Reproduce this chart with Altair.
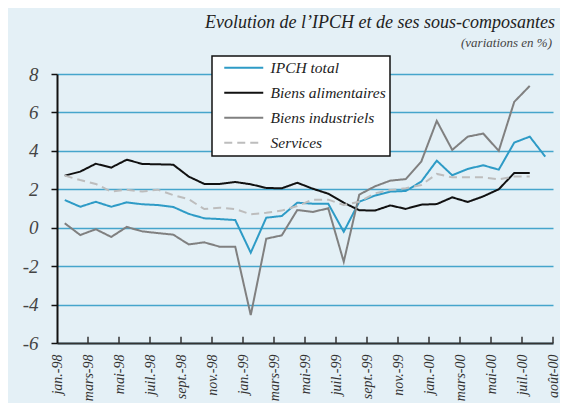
import altair as alt
import pandas as pd

# ---- data ----
tick_labels = ["jan.-98", "mars-98", "mai-98", "juil.-98", "sept.-98", "nov.-98",
               "jan.-99", "mars-99", "mai-99", "juil.-99", "sept.-99", "nov.-99",
               "jan.-00", "mars-00", "mai-00", "juil.-00", "août-00"]

series_names = ["IPCH total", "Biens alimentaires", "Biens industriels", "Services"]

ipch_total = [1.44, 1.09, 1.35, 1.09, 1.32, 1.22, 1.18, 1.08, 0.72, 0.49, 0.45, 0.40,
              -1.30, 0.52, 0.61, 1.30, 1.25, 1.25, -0.21, 1.35, 1.67, 1.88, 1.91, 2.40,
              3.49, 2.73, 3.06, 3.25, 3.02, 4.43, 4.74, 3.70]
biens_alimentaires = [2.71, 2.92, 3.33, 3.13, 3.54, 3.32, 3.30, 3.28, 2.66, 2.28, 2.28,
                      2.38, 2.26, 2.07, 2.05, 2.34, 2.03, 1.77, 1.30, 0.91, 0.89, 1.16,
                      0.98, 1.20, 1.23, 1.58, 1.34, 1.63, 2.00, 2.85, 2.85]
biens_industriels = [0.23, -0.38, -0.08, -0.48, 0.04, -0.19, -0.28, -0.36, -0.87, -0.76,
                     -0.99, -0.99, -4.55, -0.57, -0.40, 0.92, 0.82, 1.01, -1.77, 1.72,
                     2.15, 2.45, 2.53, 3.44, 5.56, 4.05, 4.74, 4.90, 4.00, 6.55, 7.38]
services = [2.71, 2.48, 2.28, 1.88, 1.98, 1.88, 1.98, 1.70, 1.48, 0.97, 1.04, 0.97,
            0.70, 0.78, 0.89, 1.13, 1.46, 1.46, 1.18, 1.35, 1.79, 1.96, 2.05, 2.22,
            2.80, 2.62, 2.62, 2.62, 2.52, 2.66, 2.66]

y_ticks = [-6, -4, -2, 0, 2, 4, 6, 8]

title_text = "Evolution de l’IPCH et de ses sous-composantes"
subtitle_text = "(variations en %)"

# ---- build table ----
rows = []
for name, vals in zip(series_names, [ipch_total, biens_alimentaires, biens_industriels, services]):
    for i, v in enumerate(vals):
        rows.append({"mois": i, "serie": name, "valeur": v})
df = pd.DataFrame(rows)

n_months = len(ipch_total)
boundaries = [-0.5 + 2 * k for k in range(len(tick_labels))]
tick_df = pd.DataFrame({"pos": boundaries[1:], "y0": -6, "y1": -5.68})

label_array = "[" + ",".join("'" + t + "'" for t in tick_labels) + "]"

FONT = "Liberation Serif"
W, H = 496, 269

x_scale = alt.Scale(domain=[-0.5, n_months - 0.5], nice=False, zero=False)
y_scale = alt.Scale(domain=[-6, 8], nice=False, zero=False)

x_axis = alt.Axis(values=boundaries, labelExpr=label_array + "[round((datum.value + 0.5) / 2)]",
                  labelAngle=270, grid=False, ticks=False, domainColor="#333333", domainWidth=2,
                  labelFont=FONT, labelFontStyle="italic", labelFontSize=14, labelColor="#333333",
                  labelPadding=11, title=None, labelOverlap=False, labelBound=False)
y_axis = alt.Axis(values=y_ticks, labelExpr="'' + datum.value", grid=True, gridColor="#45A5CC",
                  gridWidth=1.5, domainColor="#111111", domainWidth=2, tickColor="#111111",
                  tickSize=6, tickWidth=1.5, labelFont=FONT, labelFontStyle="italic",
                  labelFontSize=19, labelColor="#444444", labelPadding=13, title=None,
                  labelOverlap=False)

legend = alt.Legend(orient="none", legendX=155, legendY=-18, title=None)

lines = alt.Chart(df).mark_line(strokeWidth=2).encode(
    x=alt.X("mois:Q", scale=x_scale, axis=x_axis),
    y=alt.Y("valeur:Q", scale=y_scale, axis=y_axis),
    color=alt.Color("serie:N",
                    scale=alt.Scale(domain=series_names,
                                    range=["#2E9BC6", "#111111", "#808080", "#BDBDBD"]),
                    sort=series_names, legend=legend),
    strokeDash=alt.StrokeDash("serie:N",
                              scale=alt.Scale(domain=series_names,
                                              range=[[1, 0], [1, 0], [1, 0], [8, 5]]),
                              sort=series_names, legend=legend),
    order=alt.Order("mois:Q"),
)

ticks = alt.Chart(tick_df).mark_rule(color="#333333", strokeWidth=1.5).encode(
    x=alt.X("pos:Q", scale=x_scale, axis=x_axis),
    y=alt.Y("y0:Q", scale=y_scale, axis=y_axis),
    y2="y1:Q",
)

title = alt.Chart(pd.DataFrame({"t": [title_text]})).mark_text(
    font=FONT, fontStyle="italic", fontSize=18, color="#222222", align="right",
    baseline="alphabetic",
).encode(text="t:N", x=alt.value(W + 2), y=alt.value(-46))

subtitle = alt.Chart(pd.DataFrame({"t": [subtitle_text]})).mark_text(
    font=FONT, fontStyle="italic", fontSize=13, color="#444444", align="right",
    baseline="alphabetic",
).encode(text="t:N", x=alt.value(W - 1), y=alt.value(-27))

chart = alt.layer(ticks, lines, title, subtitle).properties(
    width=W,
    height=H,
    autosize=alt.AutoSizeParams(type="none"),
    padding={"left": 49, "top": 66, "right": 7, "bottom": 60},
).configure(background="#E4F0F6").configure_view(stroke=None).configure_legend(
    fillColor="white", strokeColor="#111111", strokeWidth=1.5, padding=4, rowPadding=8,
    symbolType="M-3,0H3", symbolSize=169, symbolStrokeWidth=2, symbolOffset=20,
    labelFont=FONT, labelFontStyle="italic", labelFontSize=15.5, labelColor="#222222",
    labelOffset=19, labelLimit=300,
)

chart.save("out.html", embed_options={"renderer": "svg", "actions": False})
